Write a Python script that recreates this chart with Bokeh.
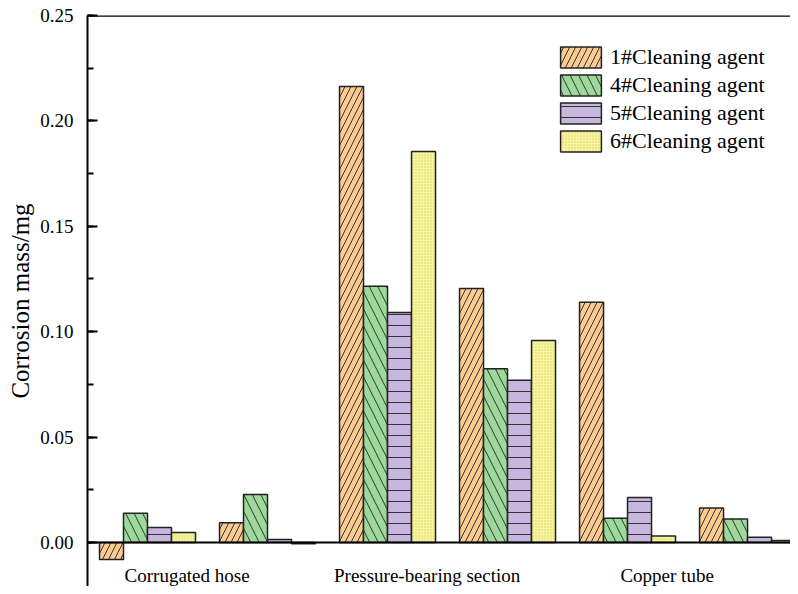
from bokeh.plotting import figure
from bokeh.models import Range1d, SingleIntervalTicker, PrintfTickFormatter, Span, ColumnDataSource
from bokeh.core.properties import value
from bokeh.embed import file_html
from bokeh.resources import INLINE

# ---- data ----
groups = ["Corrugated hose A", "Corrugated hose B", "Pressure-bearing A",
          "Pressure-bearing B", "Copper tube A", "Copper tube B"]
category_labels = ["Corrugated hose", "Pressure-bearing section", "Copper tube"]
series_names = ["1#Cleaning agent", "4#Cleaning agent", "5#Cleaning agent", "6#Cleaning agent"]
agent1 = [-0.0081, 0.0093, 0.2163, 0.1205, 0.1140, 0.0163]
agent4 = [0.0139, 0.0228, 0.1216, 0.0824, 0.0115, 0.0111]
agent5 = [0.0071, 0.0014, 0.1091, 0.0770, 0.0213, 0.0025]
agent6 = [0.0047, -0.0006, 0.1855, 0.0958, 0.0030, 0.0009]
y_ticks_step = 0.05

series = [agent1, agent4, agent5, agent6]
fills = ["#FDCB90", "#9DD99A", "#C7B6DD", "#F8F59C"]
hatches = ["/", "\\", "-", "."]
hatch_scales = [12, 17, 11, 3]
hatch_colors = ["#333333", "#333333", "#333333", "#d6d070"]

SERIF = "Liberation Serif"

p = figure(width=790, height=586, output_backend="svg", toolbar_location=None,
           x_range=Range1d(-0.5, 5.358), y_range=Range1d(-0.0209, 0.25),
           min_border_left=87, min_border_top=15, min_border_right=0, min_border_bottom=0)
p.outline_line_color = None
p.grid.visible = False
p.xaxis.visible = False
p.background_fill_color = "white"
p.border_fill_color = "white"

idx = list(range(len(groups)))
bar_w = 0.2
offsets = [-0.3, -0.1, 0.1, 0.3]
for s, name, fc, hp, hs, hc, off in zip(series, series_names, fills, hatches, hatch_scales, hatch_colors, offsets):
    src = ColumnDataSource(dict(x=[i + off for i in idx], top=s))
    p.vbar(x="x", top="top", bottom=0, width=bar_w, source=src,
           fill_color=fc, line_color="#222222", line_width=1.5,
           hatch_pattern=hp, hatch_scale=hs, hatch_color=hc, hatch_weight=1,
           legend_label=name)

# zero line and top frame line
p.add_layout(Span(location=0, dimension="width", line_color="black", line_width=2))
p.add_layout(Span(location=0.25, dimension="width", line_color="black", line_width=2.5))

# category labels
lab_x = [2 * k + 0.5 - 0.17 for k in range(len(category_labels))]
lab_src = ColumnDataSource(dict(x=lab_x, y=[-0.0157] * len(lab_x), t=category_labels))
p.text(x="x", y="y", text="t", source=lab_src, text_align="center", text_baseline="middle",
       text_font=value(SERIF), text_font_size="19px", text_color="black")

ax = p.yaxis[0]
ax.ticker = SingleIntervalTicker(interval=y_ticks_step, num_minor_ticks=2)
ax.formatter = PrintfTickFormatter(format="%.2f")
ax.axis_line_width = 2
ax.axis_line_color = "black"
ax.major_tick_in = 10
ax.major_tick_out = 0
ax.minor_tick_in = 6
ax.minor_tick_out = 0
ax.major_tick_line_width = 2
ax.minor_tick_line_width = 2
ax.major_label_standoff = 14
ax.major_label_text_font = SERIF
ax.major_label_text_font_size = "19px"
ax.major_label_text_color = "black"
ax.axis_label = "Corrosion mass/mg"
ax.axis_label_text_font = SERIF
ax.axis_label_text_font_size = "25px"
ax.axis_label_text_font_style = "normal"
ax.axis_label_text_color = "black"
ax.axis_label_standoff = 3

lg = p.legend[0]
lg.location = (468, 432)
lg.glyph_width = 51
lg.glyph_height = 26
lg.spacing = 2
lg.label_standoff = 4
lg.padding = 0
lg.margin = 0
lg.border_line_alpha = 0
lg.background_fill_alpha = 0
lg.label_text_font = SERIF
lg.label_text_font_size = "22px"
lg.label_text_color = "black"
lg.label_height = 26

open("out.html", "w").write(file_html(p, INLINE))
